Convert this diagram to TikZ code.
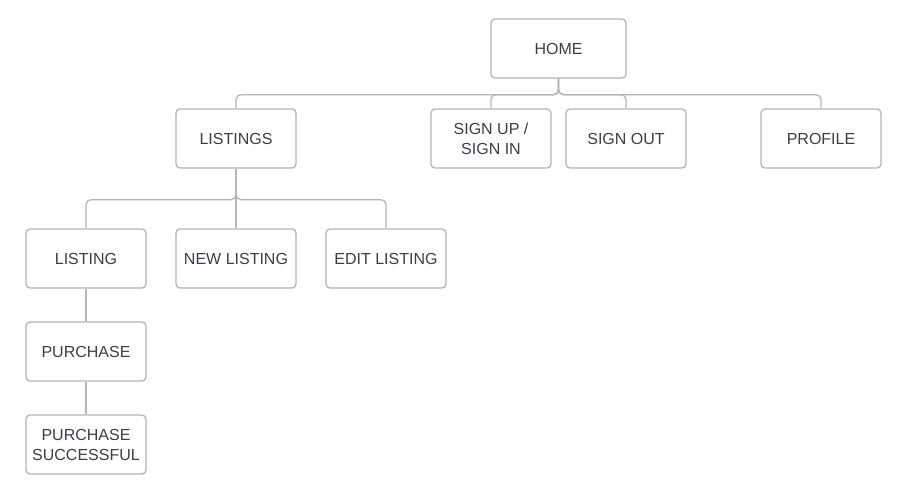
\documentclass[tikz,border=0pt]{standalone}
\usepackage{fontspec}
\setmainfont{Liberation Sans}
\begin{document}
\begin{tikzpicture}[x=1pt,y=-1pt,
  box/.style={draw=lineg, line width=1.3pt, rounded corners=4pt, fill=white,
    minimum width=120pt, minimum height=59pt, inner sep=0pt, align=center,
    text=txt, font=\fontsize{16}{20}\selectfont},
  conn/.style={draw=lineg, line width=1.3pt, rounded corners=5pt}]
\definecolor{lineg}{HTML}{B4B4BA}
\definecolor{txt}{HTML}{3B3F48}
\useasboundingbox (0,0) rectangle (900,493);
\fill[white] (0,0) rectangle (900,493);
\node[box, minimum width=135pt] (home) at (558.5,48.5) {HOME};
\node[box] (listings) at (236,138.5) {LISTINGS};
\node[box] (signup) at (491,138.5) {SIGN UP /\\SIGN IN};
\node[box] (signout) at (626,138.5) {SIGN OUT};
\node[box] (profile) at (821,138.5) {PROFILE};
\node[box] (listing) at (86,258.5) {LISTING};
\node[box] (newl) at (236,258.5) {NEW LISTING};
\node[box] (editl) at (386,258.5) {EDIT LISTING};
\node[box] (purchase) at (86,351.5) {PURCHASE};
\node[box] (success) at (86,444.5) {PURCHASE\\SUCCESSFUL};
\foreach \c in {listings,signup,signout,profile}{
  \draw[conn] (home.south) -- ++(0,16) -| (\c.north);
}
\foreach \c in {listing,editl}{
  \draw[conn] (listings.south) -- ++(0,31) -| (\c.north);
}
\draw[conn] (listings.south) -- (newl.north);
\draw[conn] (listing.south) -- (purchase.north);
\draw[conn] (purchase.south) -- (success.north);
\end{tikzpicture}
\end{document}
